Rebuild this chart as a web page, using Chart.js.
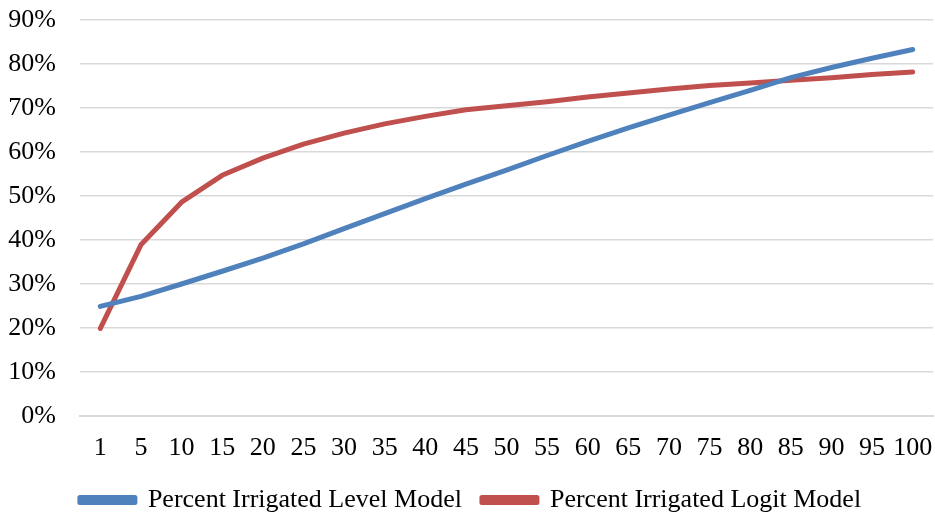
<!DOCTYPE html>
<html lang="en">
<head>
    <meta charset="UTF-8">
    <title>Percent Irrigated</title>
    <script src="https://cdn.jsdelivr.net/npm/chart.js"></script>
    <style>
        body { margin: 0; background: #fff; }
        #grafico { display: block; }
    </style>
</head>
<body>
    <canvas id="grafico" width="935" height="519"></canvas>

    <script>
        // categorias del eje x
        let categorias = ["1", "5", "10", "15", "20", "25", "30", "35", "40", "45", "50",
                          "55", "60", "65", "70", "75", "80", "85", "90", "95", "100"];

        // valores en porcentaje
        let nivel = [24.9, 27.2, 30.0, 32.9, 35.9, 39.1, 42.6, 46.0, 49.4, 52.7, 55.9,
                     59.2, 62.4, 65.5, 68.4, 71.2, 74.0, 76.9, 79.2, 81.3, 83.3];
        let logit = [19.9, 38.9, 48.6, 54.7, 58.6, 61.8, 64.3, 66.4, 68.1, 69.6, 70.5,
                     71.4, 72.5, 73.4, 74.3, 75.1, 75.7, 76.3, 76.9, 77.6, 78.2];

        let etiquetas = ["Percent Irrigated Level Model", "Percent Irrigated Logit Model"];

        let fuente = { family: "'Liberation Serif', 'Times New Roman', serif", size: 26 };

        let ctx = document.getElementById("grafico").getContext("2d");
        new Chart(ctx, {
            type: 'line',
            data: {
                labels: categorias,
                datasets: [{
                    label: etiquetas[0],
                    data: nivel,
                    borderColor: "#4F81BD",
                    backgroundColor: "#4F81BD",
                    borderWidth: 5,
                    borderCapStyle: 'round',
                    borderJoinStyle: 'round',
                    pointRadius: 0,
                    tension: 0,
                    fill: false
                }, {
                    label: etiquetas[1],
                    data: logit,
                    borderColor: "#C0504D",
                    backgroundColor: "#C0504D",
                    borderWidth: 5,
                    borderCapStyle: 'round',
                    borderJoinStyle: 'round',
                    pointRadius: 0,
                    tension: 0,
                    fill: false
                }]
            },
            options: {
                responsive: false,
                devicePixelRatio: 1,
                animation: false,
                layout: { padding: { left: 8, right: 2, top: 20, bottom: -4 } },
                plugins: {
                    tooltip: { enabled: false },
                    legend: {
                        position: 'bottom',
                        labels: {
                            color: "#000",
                            font: fuente,
                            boxWidth: 55,
                            boxHeight: 5,
                            padding: 20
                        }
                    }
                },
                scales: {
                    x: {
                        offset: true,
                        grid: { display: false, drawTicks: false },
                        border: { color: "#D9D9D9", width: 2 },
                        ticks: { color: "#000", font: fuente, padding: 17, maxRotation: 0, autoSkip: false },
                        afterFit: s => { s.height = 51; s.paddingLeft = 0; s.paddingRight = 0; }
                    },
                    y: {
                        min: 0,
                        max: 90,
                        grid: { color: "#D9D9D9", lineWidth: 1.5, drawTicks: false },
                        border: { display: false },
                        ticks: {
                            stepSize: 10,
                            color: "#000",
                            font: fuente,
                            padding: 24,
                            callback: v => v + "%"
                        },
                        afterFit: s => { s.width = 72; s.paddingTop = 0; s.paddingBottom = 0; }
                    }
                }
            }
        });
    </script>
</body>
</html>
